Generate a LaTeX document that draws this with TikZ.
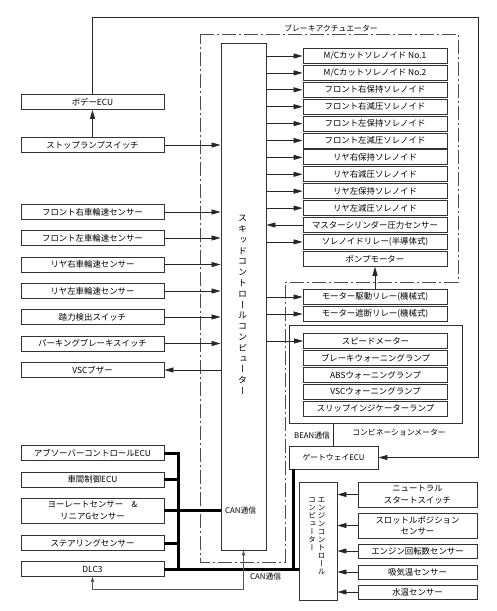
\documentclass[tikz,border=0pt]{standalone}
\usepackage{fontspec}
\setmainfont{Noto Sans CJK JP}
\newfontfamily\vjp[RawFeature=+vert]{Noto Sans CJK JP}
\usetikzlibrary{arrows.meta}
\begin{document}
\begin{tikzpicture}[x=1pt,y=-1pt,
  box/.style={draw=black!80, line width=0.9pt, inner sep=0pt, font=\fontsize{8.4}{11.5}\selectfont, align=center},
  lbox/.style={box, minimum width=143pt, minimum height=15pt},
  sbox/.style={box, minimum width=144pt, minimum height=15pt},
  ebox/.style={box, minimum width=119pt, minimum height=14pt},
  frame/.style={draw=black!80, line width=0.9pt, inner sep=0pt},
  arr/.style={draw=black!85, line width=0.8pt, -{Triangle[length=9pt,width=5pt]}},
  fb/.style={draw=black!65, line width=0.8pt, {Triangle[length=5pt,width=3.5pt]}-{Triangle[length=5pt,width=3.5pt]}},
  ln/.style={draw=black!85, line width=0.9pt},
  can/.style={draw=black, line width=3pt},
  dd/.style={draw=black!70, line width=0.8pt, dash pattern=on 14pt off 3pt on 2pt off 3pt},
  lbl/.style={font=\fontsize{7.8}{9}\selectfont, inner sep=0pt}
]
\useasboundingbox (0,0) rectangle (496,611);

% brake actuator dash-dot boundary
\draw[dd] (200,34) -- (458,34) -- (458,282) -- (285,282) -- (285,562) -- (200,562) -- cycle;
\node[lbl] (actlbl) at (331,28) {ブレーキアクチュエーター};

% skid control computer
\node[frame, minimum width=45pt, minimum height=507pt] (skid) at (243.5,296.5) {};
\node[font=\vjp\fontsize{9}{10.8}\selectfont, align=center, inner sep=0pt] (skidt) at (242.5,305)
  {ス\\キ\\ッ\\ド\\コ\\ン\\ト\\ロ\\ー\\ル\\コ\\ン\\ピ\\ュ\\ー\\タ\\ー};
\node[lbl, anchor=west] (can1) at (225,511) {CAN通信};

% left boxes
\node[lbox] (body) at (92.5,102) {ボデーECU};
\node[lbox] (stop) at (92.5,145) {ストップランプスイッチ};
\node[lbox] (fr) at (92.5,212) {フロント右車輪速センサー};
\node[lbox] (fl) at (92.5,238) {フロント左車輪速センサー};
\node[lbox] (rr) at (92.5,264.5) {リヤ右車輪速センサー};
\node[lbox] (rl) at (92.5,291) {リヤ左車輪速センサー};
\node[lbox] (pedal) at (92.5,317) {踏力検出スイッチ};
\node[lbox] (park) at (92.5,343.5) {パーキングブレーキスイッチ};
\node[lbox] (vsc) at (92.5,370) {VSCブザー};
\node[lbox] (absb) at (92.5,453) {アブソーバーコントロールECU};
\node[lbox] (dist) at (92.5,479.5) {車間制御ECU};
\node[lbox, minimum height=25pt] (yaw) at (92.5,510.5) {ヨーレートセンサー\quad\&\\リニアGセンサー};
\node[lbox] (steer) at (92.5,543) {ステアリングセンサー};
\node[lbox] (dlc) at (92.5,569) {DLC3};

% actuator boxes
\node[sbox] (s1) at (375,56) {M/Cカットソレノイド No.1};
\node[sbox] (s2) at (375,72.9) {M/Cカットソレノイド No.2};
\node[sbox] (s3) at (375,89.8) {フロント右保持ソレノイド};
\node[sbox] (s4) at (375,106.7) {フロント右減圧ソレノイド};
\node[sbox] (s5) at (375,123.6) {フロント左保持ソレノイド};
\node[sbox] (s6) at (375,140.5) {フロント左減圧ソレノイド};
\node[sbox] (s7) at (375,157.4) {リヤ右保持ソレノイド};
\node[sbox] (s8) at (375,174.3) {リヤ右減圧ソレノイド};
\node[sbox] (s9) at (375,191.2) {リヤ左保持ソレノイド};
\node[sbox] (s10) at (375,208.1) {リヤ左減圧ソレノイド};
\node[sbox] (s11) at (375,225) {マスターシリンダー圧力センサー};
\node[sbox] (s12) at (375,241.9) {ソレノイドリレー(半導体式)};
\node[sbox] (pump) at (375,258.8) {ポンプモーター};

% relays
\node[sbox] (r1) at (375,297) {モーター駆動リレー(機械式)};
\node[sbox] (r2) at (375,314) {モーター遮断リレー(機械式)};

% combination meter
\node[frame, minimum width=173pt, minimum height=98pt] (meter) at (375.5,374) {};
\node[sbox] (m1) at (375.5,341) {スピードメーター};
\node[sbox] (m2) at (375.5,357.9) {ブレーキウォーニングランプ};
\node[sbox] (m3) at (375.5,374.8) {ABSウォーニングランプ};
\node[sbox] (m4) at (375.5,391.7) {VSCウォーニングランプ};
\node[sbox] (m5) at (375.5,408.6) {スリップインジケーターランプ};
\node[lbl] (cmlbl) at (399,432) {コンビネーションメーター};
\node[lbl] (beanlbl) at (312,436) {BEAN通信};

% gateway ECU
\node[box, minimum width=89pt, minimum height=23pt, font=\fontsize{7.8}{9}\selectfont] (gw) at (333.5,457.5) {ゲートウェイECU};

% engine control computer
\node[frame, minimum width=38pt, minimum height=118pt] (eng) at (318,541) {};
\node[font=\vjp\fontsize{7.5}{8.1}\selectfont, align=center, anchor=north, inner sep=0pt] (engt1) at (321.5,497)
  {エ\\ン\\ジ\\ン\\コ\\ン\\ト\\ロ\\ー\\ル};
\node[font=\vjp\fontsize{7.5}{8.1}\selectfont, align=center, anchor=north, inner sep=0pt] (engt2) at (312,497)
  {コ\\ン\\ピ\\ュ\\ー\\タ\\ー};
\node[lbl, anchor=west] (can2) at (250,577) {CAN通信};

% engine sensors
\node[ebox, minimum height=25pt] (n1) at (417.5,494.5) {ニュートラル\\スタートスイッチ};
\node[ebox, minimum height=25pt] (n2) at (417.5,525.5) {スロットルポジション\\センサー};
\node[ebox] (n3) at (417.5,551) {エンジン回転数センサー};
\node[ebox] (n4) at (417.5,572) {吸気温センサー};
\node[ebox] (n5) at (417.5,592) {水温センサー};

% coordinates
\coordinate (tr) at (478,17);
\coordinate (busx) at (178,0);
\coordinate (gwx) at (293.5,0);
\coordinate (fbrow) at (0,589);

% body ECU loop
\draw[arr] (stop.north) -- (body.south);
\draw[arr] (body.north) |- (tr) |- (gw.east);

% inputs to skid
\foreach \n in {stop,fr,fl,rr,rl,pedal,park}
  \draw[arr] (\n.east) -- (\n.east -| skid.west);
\draw[arr] (vsc.east -| skid.west) -- (vsc.east);

% outputs from skid
\foreach \n in {s1,s2,s3,s4,s5,s6,s7,s8,s9,s10,s12,r1,r2,m1}
  \draw[arr] (\n.west -| skid.east) -- (\n.west);
\draw[arr] (s11.west) -- (s11.west -| skid.east);
\draw[arr] (r1.north) -- (pump.south);

% BEAN
\draw[ln] (gw.north |- meter.south) -- (gw.north);

% CAN bus
\draw[can] (absb.east) -| (dlc.east -| busx);
\draw[can] (dist.east) -- (dist.east -| busx);
\draw[can] (yaw.east) -- (yaw.east -| skid.west);
\draw[can] (steer.east) -- (steer.east -| busx);
\draw[can] (dlc.east) -- (dlc.east -| eng.west);
\draw[can] (gw.south -| gwx) -- (dlc.east -| gwx);

% DLC3 feedback
\draw[fb] (dlc.south) -- (dlc.south |- fbrow) -| (skid.south);

% engine sensors
\foreach \n in {n1,n2,n3,n4,n5}
  \draw[arr] (\n.west) -- (\n.west -| eng.east);
\end{tikzpicture}
\end{document}
